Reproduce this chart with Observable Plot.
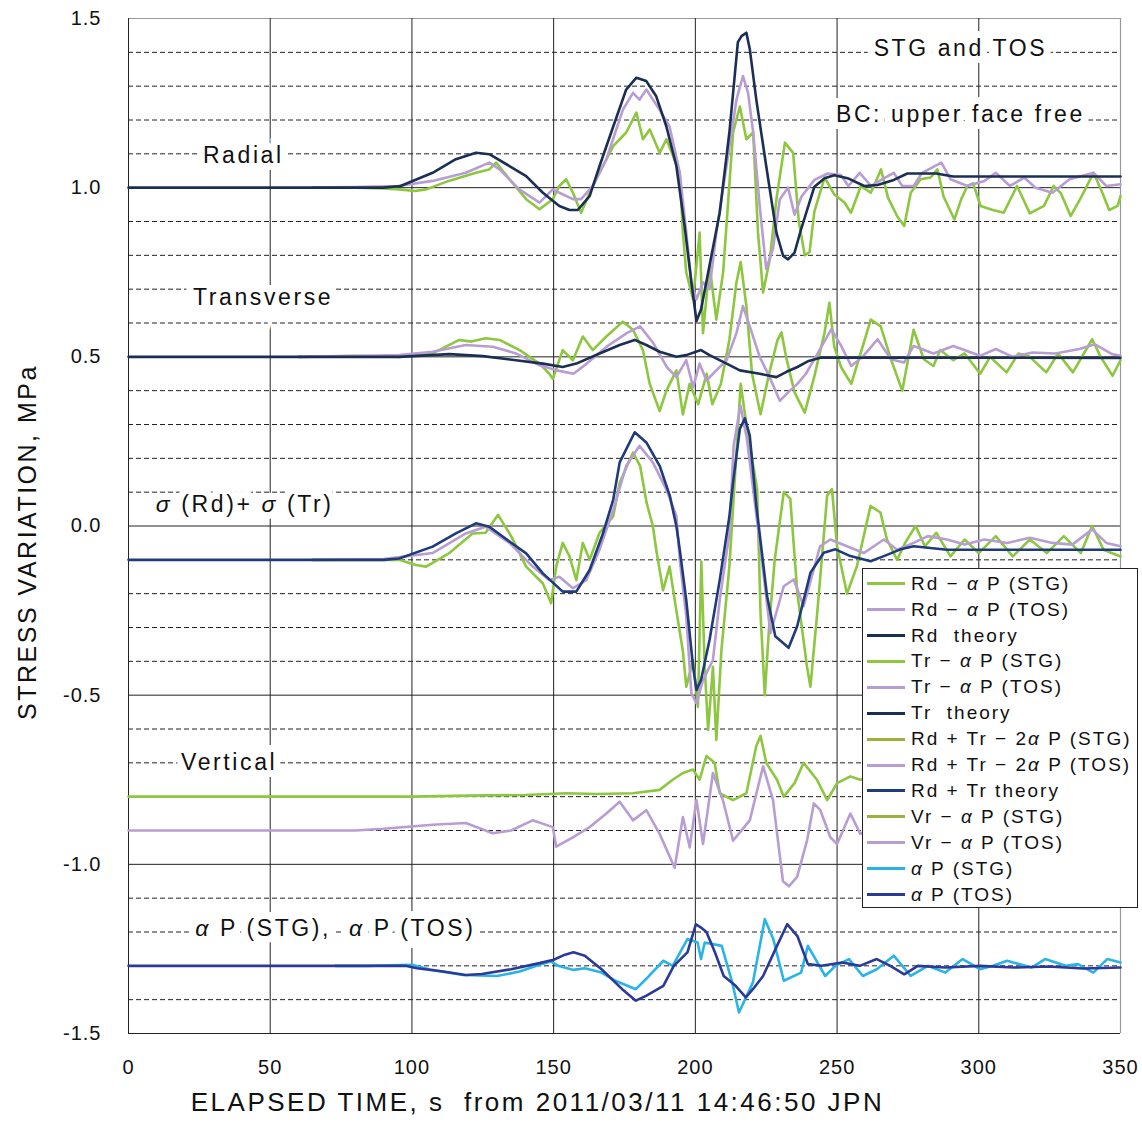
<!DOCTYPE html>
<html>
<head>
<meta charset="utf-8">
<script src="https://cdn.jsdelivr.net/npm/d3@7"></script>
<script src="https://cdn.jsdelivr.net/npm/@observablehq/plot@0.6"></script>
<style>
  html, body { margin: 0; padding: 0; background: white; }
  #wrap { position: relative; width: 1142px; height: 1128px; }
  #legend { position: absolute; left: 862px; top: 568px; width: 276px; height: 340px;
            border: 1px solid #222; background: white; box-sizing: border-box;
            font-family: 'Liberation Sans', Arial, sans-serif; font-size: 19px; color: #111; letter-spacing: 2px; }
  .row { position: absolute; left: 0; height: 26px; display: flex; align-items: center; white-space: pre; }
  .sw { display: inline-block; width: 38px; height: 3px; margin-left: 4px; margin-right: 6px; }
</style>
</head>
<body>
<div id="wrap"></div>
<script>
// ---- axes ----
const xTicks = [0, 50, 100, 150, 200, 250, 300, 350];
const yMajor = [-1.5, -1.0, -0.5, 0.0, 0.5, 1.0, 1.5];
const yMinor = d3.range(-14, 15).map(i => i / 10).filter(v => Math.abs(v * 2 - Math.round(v * 2)) > 1e-6);

// ---- series values [time s, stress MPa] ----
const rdSTG = [[65,1.0],[80,1.0],[90,0.998],[95.5,0.995],[101,0.99],[105,0.995],[113,1.02],[122.6,1.044],[127.3,1.054],[129.7,1.074],[134.4,1.025],[140.3,0.966],[145,0.936],[149.7,0.966],[152,1.005],[154.4,1.025],[156.8,0.985],[159.7,0.926],[162.7,0.985],[167.4,1.064],[171,1.123],[175.6,1.163],[179.2,1.222],[181.5,1.143],[183.9,1.172],[187.4,1.103],[189.8,1.143],[192.1,1.094],[194.5,1.044],[195.6,0.867],[196.8,0.749],[199.2,0.67],[201.5,0.867],[202.7,0.57],[205,0.77],[207.4,0.61],[209.8,0.75],[213.3,1.163],[215.7,1.24],[218,1.143],[220.4,1.163],[222.1,0.867],[223.9,0.69],[226.3,0.79],[228.6,0.966],[231.6,1.133],[234.5,1.103],[236.5,0.9],[238.6,0.80],[240.3,0.81],[242,0.93],[245.6,1.03],[249,0.98],[252.6,0.956],[254.9,0.926],[258.4,1.005],[261.9,0.985],[265.5,1.054],[268,0.97],[271.3,0.914],[273.7,0.887],[276,0.985],[279.5,1.025],[283,1.03],[285.4,1.054],[287.6,0.973],[291.4,0.906],[293.8,0.966],[296,1.005],[298,1.013],[300.6,0.946],[305,0.934],[308.8,0.926],[313.5,1.005],[318,0.924],[323,0.946],[326.4,1.005],[329,0.983],[332.4,0.916],[336,0.97],[340.5,1.044],[343.7,0.983],[346,0.934],[349,0.946],[350,0.975]];
const rdTOS = [[65,1.0],[80,1.002],[95,1.005],[107.3,1.02],[119,1.044],[127.3,1.074],[130.9,1.054],[137.9,0.995],[145,0.956],[149.7,0.995],[152,0.985],[156.8,0.966],[159.7,0.966],[163.8,1.005],[168.6,1.084],[174.4,1.23],[178,1.28],[180.3,1.26],[182.7,1.29],[187.4,1.23],[190.9,1.18],[194.5,1.044],[196.8,0.867],[198.6,0.72],[200.4,0.67],[202.7,0.72],[205,0.70],[207.4,0.867],[211,1.064],[214.5,1.26],[216.8,1.33],[218.6,1.28],[220.4,1.163],[222.7,0.946],[225,0.76],[227.4,0.82],[229.8,0.966],[232.7,1.0],[235,0.92],[237.4,0.973],[242,1.023],[246.7,1.042],[251.4,1.037],[254,1.005],[258,1.044],[262,1.005],[266,1.025],[270,1.044],[273,1.005],[277,1.005],[280,1.044],[286.8,1.074],[290,1.025],[296,1.005],[302,1.02],[306,1.044],[311,1.005],[316,1.03],[320,1.0],[326,0.985],[332,1.025],[340.5,1.044],[345,1.005],[350,1.01]];
const rdTheory = [[0,1.0],[90,1.0],[96,1.005],[107.3,1.044],[115.5,1.084],[122.6,1.103],[127.3,1.099],[134.4,1.064],[140.3,1.034],[146.2,0.985],[152,0.946],[155.6,0.934],[158.5,0.934],[162.7,0.975],[166.2,1.064],[171,1.18],[175.6,1.29],[179.2,1.325],[182.7,1.315],[186.2,1.27],[189.8,1.18],[193.3,1.064],[196.2,0.887],[198.6,0.72],[200.4,0.606],[202,0.64],[205,0.77],[208.6,0.926],[212,1.163],[215,1.43],[216.3,1.448],[218,1.458],[219.2,1.41],[221.5,1.26],[225,1.064],[228.6,0.867],[231,0.798],[232.7,0.788],[235,0.808],[237.4,0.88],[242,1.003],[245.6,1.028],[249,1.037],[253.7,1.028],[259.6,1.005],[264.3,1.008],[270,1.023],[274.8,1.042],[285,1.042],[291,1.033],[350,1.033]];

const trSTG = [[60,0.5],[80,0.503],[95.5,0.5],[107.3,0.51],[116.7,0.55],[121,0.545],[126,0.555],[130.9,0.55],[138,0.52],[145,0.48],[148.5,0.45],[149.7,0.435],[153.2,0.52],[156.8,0.49],[160.3,0.56],[163.8,0.52],[168.6,0.56],[174.4,0.604],[178,0.58],[181.5,0.52],[183.9,0.42],[187.4,0.34],[189.8,0.40],[193.3,0.46],[195.6,0.33],[198,0.42],[201,0.36],[204,0.45],[206,0.36],[209,0.42],[212,0.55],[214.5,0.72],[216,0.78],[218,0.65],[220,0.45],[223,0.33],[226,0.45],[229,0.55],[230.4,0.572],[232,0.5],[235,0.395],[238.6,0.335],[242,0.443],[245.6,0.572],[247.3,0.66],[249,0.53],[251.4,0.47],[255,0.42],[258.4,0.513],[261.9,0.61],[265.4,0.59],[269,0.493],[273,0.40],[277,0.58],[280.6,0.493],[284,0.473],[286.4,0.52],[291,0.49],[295,0.51],[300.5,0.45],[304,0.5],[309.8,0.454],[314,0.51],[318,0.5],[323.8,0.454],[328,0.51],[333.2,0.454],[340,0.552],[343,0.5],[347.2,0.444],[350,0.49]];
const trTOS = [[60,0.5],[80,0.502],[95.5,0.505],[107.3,0.515],[119,0.535],[128.5,0.53],[136.7,0.51],[145,0.475],[151,0.46],[157,0.45],[161.7,0.48],[168.7,0.53],[175.8,0.57],[180.5,0.59],[185.2,0.54],[189.9,0.47],[193.3,0.44],[196.8,0.49],[199.2,0.41],[201.5,0.48],[203.9,0.43],[207.4,0.46],[211,0.49],[214.5,0.57],[216.8,0.65],[219.2,0.59],[222.7,0.50],[226.2,0.44],[229.8,0.37],[232.7,0.395],[236,0.42],[239,0.45],[242,0.493],[248,0.582],[251.4,0.533],[255,0.473],[259,0.5],[264.3,0.552],[269,0.493],[273.6,0.483],[277,0.532],[284,0.51],[291,0.532],[300.5,0.503],[306,0.523],[312,0.5],[319,0.513],[327,0.51],[335.5,0.523],[341,0.537],[347,0.508],[350,0.503]];
const trTheory = [[0,0.5],[95.5,0.5],[113.2,0.508],[125,0.502],[136.7,0.49],[146.2,0.48],[153.2,0.47],[158,0.48],[166.2,0.51],[173.3,0.535],[178.6,0.55],[182.7,0.535],[187.4,0.515],[193.3,0.50],[196.8,0.505],[202,0.52],[205,0.505],[209.8,0.485],[215.7,0.46],[222.7,0.45],[228.6,0.44],[232,0.455],[236,0.47],[240,0.488],[244.4,0.498],[350,0.497]];

const sumSTG = [[65,-0.1],[95.5,-0.1],[101.4,-0.115],[105,-0.12],[113.2,-0.08],[121.4,-0.022],[126,-0.02],[130.4,0.033],[135,-0.03],[140.3,-0.12],[146.2,-0.17],[149.1,-0.228],[150.9,-0.12],[153.2,-0.05],[155.6,-0.09],[158,-0.16],[160.3,-0.05],[162.7,-0.1],[166.2,-0.02],[171,0.028],[173.3,0.128],[178,0.217],[180.5,0.178],[182.8,0.069],[185,0.0],[186.2,-0.07],[188.6,-0.19],[190.9,-0.12],[193.3,-0.25],[195.6,-0.37],[196.8,-0.475],[199.2,-0.396],[200.9,-0.534],[202.1,-0.105],[203.3,-0.416],[204.5,-0.603],[206.2,-0.416],[207.4,-0.632],[209.2,-0.366],[212,-0.12],[214,0.15],[216,0.42],[218,0.3],[220,0.2],[221.8,0.109],[223,-0.26],[224.5,-0.5],[226,-0.3],[228,-0.1],[231.2,0.1],[233.5,0.08],[236,-0.2],[239.4,-0.416],[240.6,-0.475],[243,-0.257],[246.5,0.09],[248.2,0.109],[250,-0.06],[253.5,-0.2],[257,-0.119],[261.8,0.059],[265.3,0.04],[267.6,-0.04],[271.2,-0.1],[274,-0.05],[277.7,0.0],[281,-0.06],[285,-0.02],[290,-0.09],[295,-0.04],[300,-0.08],[306,-0.03],[312,-0.09],[318,-0.04],[324,-0.08],[330,-0.03],[336,-0.08],[340,0.0],[344,-0.07],[350,-0.09]];
const sumTOS = [[65,-0.1],[90,-0.098],[107.3,-0.08],[119,-0.022],[126,-0.002],[134.4,-0.05],[142.6,-0.12],[148.5,-0.16],[152,-0.15],[156.8,-0.184],[161.5,-0.16],[166.2,-0.07],[171,0.047],[175.6,0.178],[180.3,0.237],[185,0.188],[189.7,0.109],[193.3,0.03],[194.5,-0.1],[196.8,-0.268],[198.6,-0.495],[200.4,-0.524],[202.7,-0.455],[206.2,-0.396],[208.6,-0.219],[212,-0.022],[213.5,0.237],[215.9,0.356],[218.2,0.257],[222.9,-0.06],[226.5,-0.317],[231.2,-0.178],[234.7,-0.158],[238.2,-0.237],[244,-0.06],[247.6,-0.04],[253.5,-0.06],[259.4,-0.08],[266.5,-0.04],[271.2,-0.07],[277,-0.05],[282,-0.03],[288.8,-0.04],[295,-0.055],[302,-0.04],[310,-0.05],[318,-0.035],[326,-0.05],[333,-0.055],[340,-0.01],[345,-0.05],[350,-0.06]];
const sumTheory = [[0,-0.1],[90,-0.1],[95.5,-0.096],[107.3,-0.061],[115.5,-0.022],[122.6,0.008],[127.3,-0.002],[134.4,-0.046],[140.3,-0.081],[146.2,-0.14],[153.2,-0.194],[158,-0.194],[162.7,-0.13],[167.4,-0.022],[171,0.077],[173.3,0.188],[178.6,0.277],[182.7,0.247],[187.4,0.178],[191,0.089],[193.3,0.0],[194.5,-0.07],[196.8,-0.22],[199.2,-0.416],[200.4,-0.485],[202,-0.455],[205,-0.337],[208.6,-0.16],[212,0.028],[213.3,0.128],[215.7,0.287],[217.5,0.318],[219.2,0.267],[221.5,0.06],[225.3,-0.207],[228.2,-0.326],[232.9,-0.36],[235.9,-0.297],[240.6,-0.138],[245.3,-0.079],[249.4,-0.069],[254.7,-0.089],[261.8,-0.104],[266.5,-0.089],[272.4,-0.069],[277,-0.06],[288.8,-0.07],[350,-0.07]];

const vrSTG = [[0,-0.8],[100,-0.8],[120,-0.797],[140,-0.795],[154.4,-0.79],[165,-0.792],[178,-0.79],[187.4,-0.78],[192,-0.75],[195.6,-0.73],[199.2,-0.72],[201.5,-0.75],[203.9,-0.68],[206.8,-0.70],[208.6,-0.79],[213.3,-0.81],[218,-0.79],[221.5,-0.65],[223,-0.62],[225,-0.70],[228.8,-0.75],[231.2,-0.8],[235,-0.76],[238.2,-0.70],[242.9,-0.75],[246.5,-0.81],[250,-0.76],[254.7,-0.74],[258.2,-0.75],[262,-0.74]];
const vrTOS = [[0,-0.9],[80,-0.9],[90,-0.895],[107.3,-0.883],[119,-0.878],[128.5,-0.908],[135,-0.9],[142.6,-0.87],[149.7,-0.89],[150.9,-0.948],[156.8,-0.92],[162.7,-0.89],[168.6,-0.85],[173.3,-0.815],[178,-0.87],[182.7,-0.84],[187.4,-0.91],[192.7,-1.01],[195.6,-0.86],[198,-0.95],[200.4,-0.81],[202.7,-0.94],[206.2,-0.73],[209.7,-0.81],[213.3,-0.93],[219.2,-0.87],[223.9,-0.71],[227.4,-0.81],[230.9,-1.05],[233,-1.065],[235.9,-1.037],[239.4,-0.93],[241.8,-0.82],[244.1,-0.84],[247.6,-0.92],[250,-0.94],[254.7,-0.85],[258.2,-0.91],[262,-0.9]];

const apSTG = [[73,-1.3],[84,-1.3],[100,-1.297],[107,-1.312],[118,-1.327],[130,-1.33],[138,-1.317],[145,-1.297],[149,-1.287],[151.6,-1.30],[157,-1.312],[161,-1.307],[166.9,-1.32],[172,-1.345],[179,-1.369],[182.6,-1.339],[188.7,-1.285],[192,-1.30],[197.2,-1.221],[200.8,-1.231],[202,-1.28],[203.3,-1.231],[209.3,-1.241],[213,-1.349],[215.4,-1.438],[220.3,-1.349],[224.5,-1.162],[227.5,-1.221],[231.2,-1.344],[237.3,-1.32],[239.7,-1.241],[245.8,-1.33],[249.4,-1.30],[254.2,-1.28],[259.1,-1.33],[264,-1.31],[270,-1.27],[276,-1.33],[282,-1.30],[288.2,-1.32],[294.3,-1.28],[300.4,-1.31],[305,-1.30],[310,-1.285],[318.6,-1.305],[323.4,-1.28],[330.7,-1.30],[335,-1.295],[340.4,-1.32],[345.3,-1.28],[350,-1.29]];
const apTOS = [[0,-1.3],[97.7,-1.3],[101.8,-1.307],[111,-1.317],[119,-1.327],[124.7,-1.324],[135,-1.31],[145,-1.292],[150,-1.282],[154,-1.267],[157,-1.26],[161,-1.27],[166.9,-1.31],[174.2,-1.369],[179,-1.403],[182.6,-1.389],[188.7,-1.359],[192.4,-1.30],[197.2,-1.26],[200.2,-1.177],[202,-1.187],[203.9,-1.20],[206.9,-1.26],[210,-1.33],[214.2,-1.359],[217.8,-1.393],[220.3,-1.369],[223.9,-1.33],[228.8,-1.241],[232.4,-1.177],[236,-1.212],[239.7,-1.295],[244.5,-1.30],[251.8,-1.29],[258,-1.30],[264,-1.28],[268.8,-1.30],[273.7,-1.325],[278.5,-1.30],[288.2,-1.305],[300.4,-1.30],[312.5,-1.305],[324.6,-1.302],[336.8,-1.308],[350,-1.305]];

// ---- in-chart labels (data coordinates) ----
const labelText = ["Radial", "Transverse", "σ (Rd)+ σ (Tr)", "Vertical", "α P (STG),  α P (TOS)", "STG and TOS", "BC: upper face free"];
const labelX    = [40.5, 47.5, 41, 35.5, 73, 293.5, 293.5];
const labelY    = [1.095, 0.675, 0.062, -0.70, -1.19, 1.41, 1.215];

// ---- colours & legend ----
const GREEN = "#8dc63f", OLIVE = "#9cb23c", LAV = "#b89dd3", NAVY = "#1b2f55", NAVY2 = "#1f3b7c", CYAN = "#2ab4e6", BLUE = "#2b3a98";
const series = [
  {key: "Rd − α P (STG)",        color: GREEN, pts: rdSTG,     legend: GREEN},
  {key: "Rd − α P (TOS)",        color: LAV,   pts: rdTOS,     legend: LAV},
  {key: "Rd  theory",             color: NAVY,  pts: rdTheory,  legend: NAVY},
  {key: "Tr − α P (STG)",        color: GREEN, pts: trSTG,     legend: GREEN},
  {key: "Tr − α P (TOS)",        color: LAV,   pts: trTOS,     legend: LAV},
  {key: "Tr  theory",             color: NAVY,  pts: trTheory,  legend: NAVY},
  {key: "Rd + Tr − 2α P (STG)",  color: GREEN, pts: sumSTG,    legend: OLIVE},
  {key: "Rd + Tr − 2α P (TOS)",  color: LAV,   pts: sumTOS,    legend: LAV},
  {key: "Rd + Tr theory",         color: NAVY2, pts: sumTheory, legend: NAVY2},
  {key: "Vr − α P (STG)",        color: GREEN, pts: vrSTG,     legend: OLIVE},
  {key: "Vr − α P (TOS)",        color: LAV,   pts: vrTOS,     legend: LAV},
  {key: "α P (STG)",              color: CYAN,  pts: apSTG,     legend: CYAN},
  {key: "α P (TOS)",              color: BLUE,  pts: apTOS,     legend: BLUE}
];
// drawing order: STG, TOS, theory on top
const drawOrder = [0,3,6,9,1,4,7,10,11,2,5,8,12];
const lineMarks = drawOrder.map(i => {
  const s = series[i];
  return Plot.line(s.pts.map(([t, v]) => ({t, v})), {x: "t", y: "v", stroke: s.color, strokeWidth: 2.6, strokeLinejoin: "round"});
});
const labels = labelText.map((text, i) => ({text, x: labelX[i], y: labelY[i]}));
const xLabel = "ELAPSED TIME, s  from 2011/03/11 14:46:50 JPN";
const yLabel = "STRESS VARIATION, MPa";

const chart = Plot.plot({
  width: 1142, height: 1128,
  marginLeft: 128, marginRight: 22, marginTop: 18, marginBottom: 95,
  x: {domain: [0, 350]},
  y: {domain: [-1.5, 1.5]},
  style: {fontFamily: "'Liberation Sans', Arial, sans-serif", background: "white", color: "#111", letterSpacing: "1px"},
  marks: [
    Plot.ruleY(yMinor, {stroke: "#222", strokeDasharray: "5,3", strokeWidth: 1}),
    Plot.ruleY(yMajor.filter(v => v < 1.5), {stroke: "#222", strokeWidth: 1}),
    Plot.ruleY([1.5], {stroke: "#999", strokeWidth: 1.2}),
    Plot.ruleX(xTicks.filter(t => t < 350), {stroke: "#222", strokeWidth: 1}),
    Plot.ruleX([350], {stroke: "#999", strokeWidth: 1.2}),
    Plot.text(labels, {x: "x", y: "y", text: "text", fontSize: 23, fill: "#111", stroke: "white", strokeWidth: 14, strokeLinejoin: "miter"}),
    ...lineMarks,
    Plot.axisX({ticks: xTicks, tickSize: 0, tickPadding: 26, fontSize: 20, label: null, tickFormat: d3.format("d")}),
    Plot.axisY({ticks: yMajor, tickSize: 0, tickPadding: 27, fontSize: 20, label: null, tickFormat: v => (v < 0 ? "-" : "") + Math.abs(v).toFixed(1)}),
    Plot.text([xLabel], {frameAnchor: "bottom", textAnchor: "middle", dy: 77, dx: -87, fontSize: 26, fill: "#111"}),
    Plot.text([yLabel], {frameAnchor: "left", textAnchor: "middle", rotate: -90, dx: -101, dy: 16, fontSize: 25, fill: "#111"})
  ]
});
// per-text letter spacing (wide Japanese-style glyph spacing) and slanted Greek letters
d3.select(chart).selectAll("text").each(function () {
  const t = this.textContent;
  if (t === xLabel || t === yLabel) this.setAttribute("letter-spacing", "2.5px");
  else if (labelText.includes(t)) {
    this.setAttribute("letter-spacing", "2.6px");
    if (/[ασ]/.test(t)) {
      const el = d3.select(this);
      el.text(null);
      t.split(/([ασ])/).filter(p => p.length).forEach(p => {
        const ts = el.append("tspan").text(p);
        if (p === "α" || p === "σ") ts.attr("font-style", "italic");
      });
    }
  }
});
const wrap = document.getElementById("wrap");
wrap.appendChild(chart);

// legend box overlaid inside the plot area
const lg = document.createElement("div");
lg.id = "legend";
series.forEach((s, i) => {
  const row = document.createElement("div");
  row.className = "row";
  row.style.top = (1.7 + i * 25.9) + "px";
  const sw = document.createElement("span");
  sw.className = "sw";
  sw.style.background = s.legend;
  row.appendChild(sw);
  s.key.split(/(α)/).filter(p => p.length).forEach(p => {
    if (p === "α") { const it = document.createElement("i"); it.textContent = p; row.appendChild(it); }
    else row.appendChild(document.createTextNode(p));
  });
  lg.appendChild(row);
});
wrap.appendChild(lg);
</script>
</body>
</html>
